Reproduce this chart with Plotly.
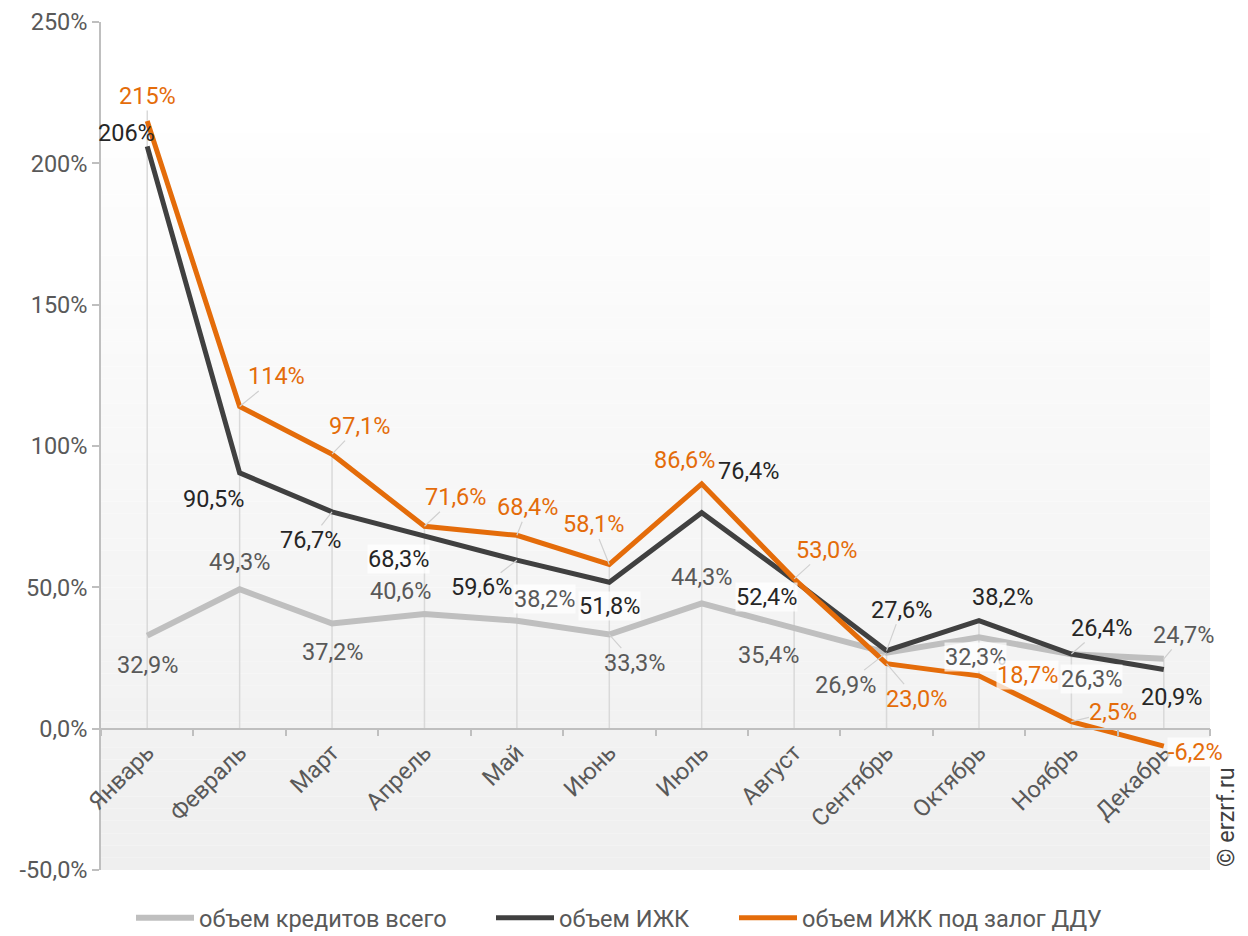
import plotly.graph_objects as go

months = ["Январь", "Февраль", "Март", "Апрель", "Май", "Июнь", "Июль",
          "Август", "Сентябрь", "Октябрь", "Ноябрь", "Декабрь"]
total_credit = [32.9, 49.3, 37.2, 40.6, 38.2, 33.3, 44.3, 35.4, 26.9, 32.3, 26.3, 24.7]
izhk = [206, 90.5, 76.7, 68.3, 59.6, 51.8, 76.4, 52.4, 27.6, 38.2, 26.4, 20.9]
izhk_ddu = [215, 114, 97.1, 71.6, 68.4, 58.1, 86.6, 53.0, 23.0, 18.7, 2.5, -6.2]
series_names = ["объем кредитов всего", "объем ИЖК", "объем ИЖК под залог ДДУ"]
ytick_vals = [-50, 0, 50, 100, 150, 200, 250]
ytick_text = ["-50,0%", "0,0%", "50,0%", "100%", "150%", "200%", "250%"]

# styles
line_colors = ["#bfbfbf", "#404040", "#e46c0a"]
label_colors = ["#595959", "#262626", "#e46c0a"]
line_widths = [6, 5, 5]
FONT = "Roboto"
FS = 23.5
W, H = 1240, 928          # page body adds 8px margin
legend_line_start = [137, 497, 740]   # page px where each legend swatch begins

# label placement: (dx, dy, leader, white background)
offsets = [
    [(0, 29, 0, 0), (0, -27, 0, 0), (0, 28, 0, 0), (-24, -23, 0, 0), (28, -22, 0, 1),
     (25, 28, 1, 0), (0, -26, 0, 0), (-26, 26, 0, 0), (-41, 32, 1, 0), (-3, 20, 0, 1),
     (20, 25, 0, 1), (20, -24, 1, 0)],
    [(-21, -13, 0, 0), (-26, 26, 0, 0), (-22, 28, 1, 0), (-26, 23, 0, 1), (-35, 27, 1, 0),
     (0, 24, 0, 1), (47, -42, 0, 0), (-28, 16, 0, 1), (15, -41, 1, 0), (24, -24, 0, 0),
     (30, -26, 1, 0), (8, 27, 0, 0)],
    [(0, -25, 1, 0), (37, -30, 1, 0), (27, -28, 1, 0), (31, -29, 1, 0), (11, -28, 1, 0),
     (-16, -40, 1, 0), (-17, -24, 0, 0), (32, -29, 1, 0), (30, 35, 1, 0), (49, -1, 0, 1),
     (42, -10, 1, 0), (32, 6, 0, 1)],
]


def fmt(v):
    if abs(v) >= 100:
        return f"{v:.0f}%"
    return f"{v:.1f}%".replace(".", ",")


fig = go.Figure()

# gradient background (plot area, lower part)
top = (870 - 133) / 848
n = 60
for i in range(n):
    y0 = top * i / n
    y1 = top * (i + 1) / n
    t = i / (n - 1)
    c = int(round(0xef + (0xfe - 0xef) * t))
    fig.add_shape(type="rect", xref="paper", yref="paper", x0=0, x1=1, y0=y0, y1=y1,
                  fillcolor=f"rgb({c},{c},{c})", line=dict(width=0), layer="below")

# drop lines
all_series = [total_credit, izhk, izhk_ddu]
dx, dy = [], []
for i, m in enumerate(months):
    vals = [s[i] for s in all_series]
    hi = max(vals)
    dx += [m, m, None]
    dy += [0, hi, None]
fig.add_trace(go.Scatter(x=dx, y=dy, mode="lines", line=dict(color="#d9d9d9", width=1.5),
                         showlegend=False, hoverinfo="skip"))

legend_ids = ["legend", "legend2", "legend3"]
for s, name, lc, lw, lid in zip(all_series, series_names, line_colors, line_widths, legend_ids):
    fig.add_trace(go.Scatter(x=months, y=s, mode="lines", name=name, legend=lid,
                             line=dict(color=lc, width=lw)))

annotations = []
for s, offs, tc in zip(all_series, offsets, label_colors):
    for m, v, (ox, oy, lead, bg) in zip(months, s, offs):
        a = dict(x=m, y=v, xref="x", yref="y", text=fmt(v),
                 font=dict(family=FONT, size=FS, color=tc),
                 bgcolor="rgba(255,255,255,0.75)" if bg else None, borderpad=0)
        if lead:
            a.update(showarrow=True, ax=ox, ay=oy, arrowhead=0, arrowwidth=1.2,
                     arrowcolor="#d0d0d0", standoff=0)
        else:
            a.update(showarrow=False, xshift=ox, yshift=-oy)
        annotations.append(a)

annotations.append(dict(text="© erzrf.ru", xref="paper", yref="paper",
                        x=(1226 - 101) / 1109, y=(870 - 817) / 848, showarrow=False,
                        xanchor="center", yanchor="middle",
                        textangle=-90, font=dict(family=FONT, size=FS, color="#404040")))


def legend_cfg(px):
    return dict(orientation="h", xref="container", yref="container",
                x=(px - 8 - 6) / W, y=1 - (918 - 8) / H, xanchor="left", yanchor="middle",
                font=dict(family=FONT, size=FS, color="#595959"), itemwidth=58,
                bgcolor="rgba(0,0,0,0)")


fig.update_layout(
    width=W, height=H,
    margin=dict(l=93, r=38, t=14, b=66, autoexpand=False),
    paper_bgcolor="white", plot_bgcolor="white",
    font=dict(family=FONT, size=FS, color="#595959"),
    annotations=annotations,
    showlegend=True,
    legend=legend_cfg(legend_line_start[0]),
    legend2=legend_cfg(legend_line_start[1]),
    legend3=legend_cfg(legend_line_start[2]),
    xaxis=dict(type="category", range=[-0.5, 11.5], anchor="free", position=50 / 300,
               showline=True, linecolor="#bfbfbf", linewidth=1.5, ticks="outside",
               tickson="boundaries", ticklen=7, tickcolor="#bfbfbf", tickwidth=1.5,
               tickangle=-45, showgrid=False, zeroline=False, automargin=False,
               tickfont=dict(family=FONT, size=FS, color="#595959")),
    yaxis=dict(range=[-50, 250], tickvals=ytick_vals, ticktext=ytick_text,
               showline=True, linecolor="#bfbfbf", linewidth=1.5, ticks="outside",
               ticklen=7, tickcolor="#bfbfbf", tickwidth=1.5, showgrid=False, automargin=False,
               zeroline=False, tickfont=dict(family=FONT, size=FS, color="#595959")),
)

fig.write_html("out.html")
